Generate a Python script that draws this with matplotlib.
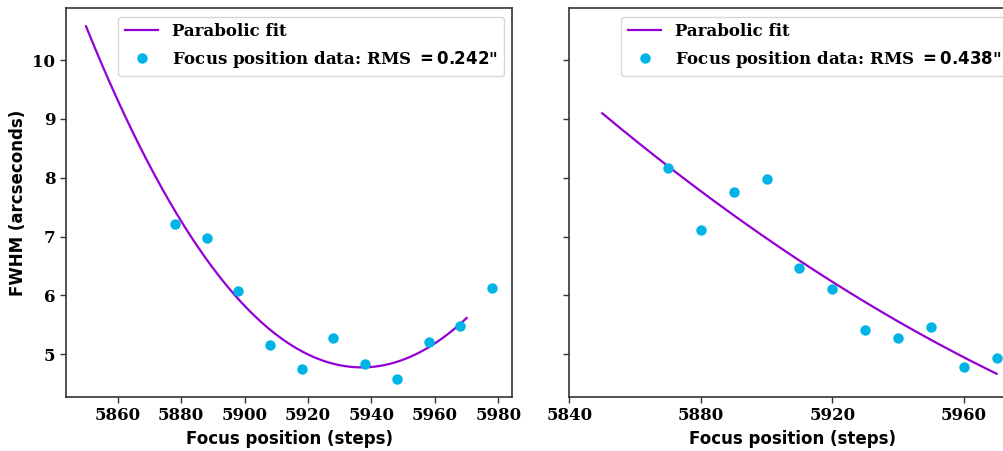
import numpy as np
import matplotlib
matplotlib.use("Agg")
import matplotlib.pyplot as plt
from matplotlib.font_manager import FontProperties

plt.rcParams["mathtext.fontset"] = "dejavusans"

# focus run 1 (left) and focus run 2 (right)
focus_left = [5878, 5888, 5898, 5908, 5918, 5928, 5938, 5948, 5958, 5968, 5978]
fwhm_left = [7.21, 6.97, 6.07, 5.16, 4.75, 5.28, 4.84, 4.58, 5.21, 5.48, 6.12]
focus_right = [5870, 5880, 5890, 5900, 5910, 5920, 5930, 5940, 5950, 5960, 5970]
fwhm_right = [8.16, 7.11, 7.76, 7.98, 6.46, 6.11, 5.42, 5.28, 5.46, 4.78, 4.93]
rms_left = "0.242"
rms_right = "0.438"
fit_range = (5850, 5970)

LINE_C = "#9400D3"
PT_C = "#00B4E6"
serif_bold = {"family": "DejaVu Serif", "weight": "bold"}

W, H = 1004, 451
fig = plt.figure(figsize=(W / 100, H / 100), dpi=100)
bottom = (H - 396.7) / H
height = (396.7 - 8.3) / H
ax1 = fig.add_axes([65.7 / W, bottom, 446.6 / W, height])
ax2 = fig.add_axes([569.3 / W, bottom, 447.0 / W, height], sharey=ax1)

panels = [(ax1, focus_left, fwhm_left, rms_left), (ax2, focus_right, fwhm_right, rms_right)]
for ax, xs, ys, rms in panels:
    coef = np.polyfit(xs, ys, 2)
    xf = np.linspace(fit_range[0], fit_range[1], 300)
    ax.plot(xf, np.polyval(coef, xf), color=LINE_C, lw=1.6, label="Parabolic fit")
    ax.plot(xs, ys, "o", color=PT_C, ms=7.5, mec="none",
            label="Focus position data: RMS $\\mathbf{=" + rms + "}$\"")
    ax.set_xlabel("Focus position (steps)", fontsize=12, fontweight="bold",
                  family="DejaVu Sans")
    for s in ax.spines.values():
        s.set_color("#333333")
        s.set_linewidth(1.2)
    ax.tick_params(length=4, width=1.0, color="#333333")
    ax.legend(loc="upper right", prop=FontProperties(size=12, **serif_bold),
              handlelength=2.0, borderaxespad=0.5)

ax1.set_ylabel("FWHM (arcseconds)", fontsize=12, fontweight="bold", family="DejaVu Sans")
ax1.set_xticks([5860, 5880, 5900, 5920, 5940, 5960, 5980])
ax2.set_xlim(5840, 5976)
ax2.set_xticks([5840, 5880, 5920, 5960])
ax1.set_yticks([5, 6, 7, 8, 9, 10])
ax1.set_ylim(4.28, 10.88)
plt.setp(ax2.get_yticklabels(), visible=False)
for ax in (ax1, ax2):
    for lb in ax.get_xticklabels() + ax.get_yticklabels():
        lb.set_fontproperties(FontProperties(size=12, **serif_bold))

fig.savefig("out.png", dpi=100)
